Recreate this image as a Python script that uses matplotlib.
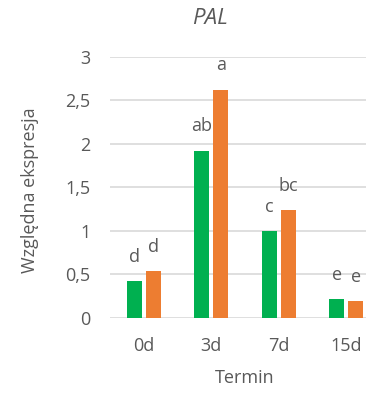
import matplotlib.pyplot as plt
import numpy as np

plt.rcParams['font.family'] = ['Open Sans', 'DejaVu Sans']

terms = ['0d', '3d', '7d', '15d']
green_vals = [0.425, 1.92, 1.0, 0.215]
orange_vals = [0.54, 2.62, 1.24, 0.195]
green_letters = ['d', 'ab', 'c', 'e']
orange_letters = ['d', 'a', 'bc', 'e']

text_col = '#595959'

fig = plt.figure(figsize=(3.66, 3.95), dpi=100)
# axes run a bit past the right edge of the figure
ax = fig.add_axes([110 / 366, 77 / 395, 270 / 366, 261.3 / 395])

x = np.arange(len(terms))
w = 0.222
off = 0.14
b1 = ax.bar(x - off, green_vals, w, color='#00B050', zorder=3)
b2 = ax.bar(x + off, orange_vals, w, color='#ED7D31', zorder=3)

# significance letters above each bar
for bars, letters in [(b1, green_letters), (b2, orange_letters)]:
    for rect, lab in zip(bars, letters):
        ax.annotate(lab, (rect.get_x() + rect.get_width() / 2, rect.get_height()),
                    xytext=(0, 17.5), textcoords='offset points',
                    ha='center', va='center', fontsize=13, color=text_col)

ax.set_xlim(-0.5, 3.5)
ax.set_ylim(0, 3)
ax.set_yticks([0, 0.5, 1, 1.5, 2, 2.5, 3])
ax.set_yticklabels(['0', '0,5', '1', '1,5', '2', '2,5', '3'])
ax.set_xticks(x)
ax.set_xticklabels(terms)
ax.tick_params(length=0, labelsize=13, labelcolor=text_col)
ax.tick_params(axis='y', pad=14)
ax.tick_params(axis='x', pad=14)

ax.yaxis.grid(True, color='#d9d9d9', linewidth=1.2, zorder=0)
for s in ax.spines.values():
    s.set_visible(False)

ax.set_xlabel('Termin', fontsize=13, color=text_col, labelpad=10)
fig.text(30 / 366, 1 - 190 / 395, 'Względna ekspresja', rotation=90,
         ha='center', va='center', fontsize=13, color=text_col)
fig.text(210 / 366, 1 - 19 / 395, 'PAL', ha='center', va='center',
         fontsize=16, style='italic', color=text_col)

fig.savefig('out.png', dpi=100)
